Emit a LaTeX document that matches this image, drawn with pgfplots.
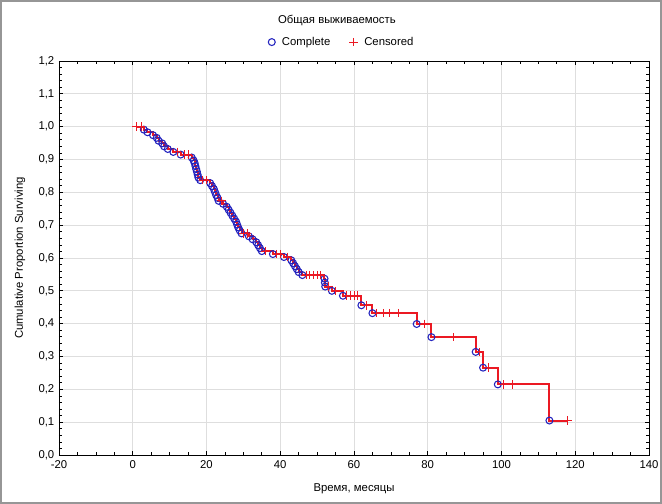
\documentclass[border=0pt]{standalone}
\usepackage{pgfplots}
\pgfplotsset{compat=1.18}
\usepackage{fontspec}
\setmainfont{Liberation Sans}
\definecolor{kmred}{RGB}{235,25,35}
\definecolor{kmblue}{RGB}{35,35,190}
\definecolor{gridgray}{RGB}{222,222,222}
\definecolor{framegray}{RGB}{150,150,150}
\begin{document}
\begin{tikzpicture}
\begin{axis}[
  at={(0,0)}, anchor=south west,
  scale only axis,
  width=442.5pt, height=295.5pt,
  xmin=-20, xmax=140, ymin=0, ymax=1.2,
  xtick={-20,0,20,40,60,80,100,120,140},
  ytick={0,0.1,0.2,0.3,0.4,0.5,0.6,0.7,0.8,0.9,1.0,1.1,1.2},
  minor x tick num=3, minor y tick num=4,
  tick align=inside, tick pos=both,
  major tick length=3pt, minor tick length=2pt,
  grid=major, major grid style={gridgray, line width=0.6pt},
  axis line style={black, line width=0.6pt},
  every tick/.style={black, line width=0.5pt},
  /pgf/number format/assume math mode=true,
  ticklabel style={font=\fontsize{8.5}{10}\selectfont},
  yticklabel style={/pgf/number format/.cd, use comma, fixed, fixed zerofill, precision=1},
  xticklabel style={yshift=-1pt, /pgf/number format/.cd, fixed, precision=0},
  xlabel={Время, месяцы}, ylabel={Cumulative Proportion Surviving},
  label style={font=\fontsize{8.5}{10}\selectfont},
  xlabel style={at={(axis description cs:0.5,-0.086)}, anchor=center},
  ylabel style={at={(axis description cs:-0.066,0.5)}, anchor=center},
  legend columns=2,
  legend style={draw=none, fill=none, font=\fontsize{8.5}{10}\selectfont,
    at={(axis description cs:0.48,1.048)}, anchor=center,
    /tikz/every odd column/.append style={column sep=3pt},
    /tikz/every even column/.append style={column sep=12pt}},
  legend cell align=left,
  clip=false,
]
\addplot[const plot, kmred, line width=1.5pt, forget plot] coordinates {
(1,1.0) (3,0.991) (4,0.983) (5.5,0.974) (6.5,0.966) (7,0.957) (8,0.949) (8.5,0.940)
(9.5,0.932) (11,0.923) (13,0.915) (16,0.906) (16.5,0.897) (16.8,0.889) (17,0.880)
(17.2,0.871) (17.4,0.863) (17.6,0.854) (17.8,0.845) (18.3,0.837) (21,0.828) (21.5,0.819)
(22,0.810) (22.3,0.801) (22.6,0.792) (23,0.783) (23.3,0.774) (24.5,0.765) (25.5,0.756)
(26,0.747) (26.5,0.738) (27,0.729) (27.5,0.720) (28,0.711) (28.3,0.702) (28.6,0.693)
(29,0.684) (29.5,0.675) (31.5,0.666) (32.5,0.657) (33.5,0.648) (34,0.639) (34.5,0.630)
(35,0.621) (38,0.612) (41,0.603) (43,0.593) (43.5,0.584) (44,0.575) (44.5,0.566)
(45,0.557) (46,0.548) (52,0.537) (52.1,0.525) (52.2,0.513) (54,0.500) (57,0.485)
(62,0.456) (65,0.432) (77,0.399) (81,0.359) (93,0.314) (95,0.266) (99,0.215)
(113,0.105) (118,0.105)
};
\addplot[only marks, mark=o, mark size=2.6pt, kmblue, mark options={line width=0.8pt}] coordinates {
(3,0.991) (4,0.983) (5.5,0.974) (6.5,0.966) (7,0.957) (8,0.949) (8.5,0.940)
(9.5,0.932) (11,0.923) (13,0.915) (16,0.906) (16.5,0.897) (16.8,0.889) (17,0.880)
(17.2,0.871) (17.4,0.863) (17.6,0.854) (17.8,0.845) (18.3,0.837) (21,0.828) (21.5,0.819)
(22,0.810) (22.3,0.801) (22.6,0.792) (23,0.783) (23.3,0.774) (24.5,0.765) (25.5,0.756)
(26,0.747) (26.5,0.738) (27,0.729) (27.5,0.720) (28,0.711) (28.3,0.702) (28.6,0.693)
(29,0.684) (29.5,0.675) (31.5,0.666) (32.5,0.657) (33.5,0.648) (34,0.639) (34.5,0.630)
(35,0.621) (38,0.612) (41,0.603) (43,0.593) (43.5,0.584) (44,0.575) (44.5,0.566)
(45,0.557) (46,0.548) (52,0.537) (52.1,0.525) (52.2,0.513) (54,0.500) (57,0.485)
(62,0.456) (65,0.432) (77,0.399) (81,0.359) (93,0.314) (95,0.266) (99,0.215)
(113,0.105)
};
\addlegendentry{Complete}
\addplot[only marks, mark=+, mark size=3.2pt, kmred, mark options={line width=0.7pt}] coordinates {
(1,1.0) (2.3,1.0) (12,0.923) (14,0.915) (15,0.915) (19,0.837) (20,0.837) (24,0.774)
(30,0.675) (31,0.675) (36,0.621) (39,0.612) (40,0.612) (42,0.603) (47,0.548) (48,0.548)
(49,0.548) (50,0.548) (51,0.548) (53,0.513) (55,0.500) (58,0.485) (59,0.485) (60,0.485)
(61,0.485) (63.5,0.456) (66,0.432) (68,0.432) (69.5,0.432) (72,0.432) (79,0.399)
(87,0.359) (94,0.314) (96.5,0.266) (100.5,0.215) (103,0.215) (118,0.105)
};
\addlegendentry{Censored}
\node[font=\fontsize{8.5}{10}\selectfont] at (axis description cs:0.471,1.104) {Общая выживаемость};
\end{axis}
\draw[framegray, line width=0.8pt] (-43.5pt,-36pt) rectangle (451.5pt,340.5pt);
\pgfresetboundingbox
\path[use as bounding box] (-44.25pt,-36.75pt) rectangle (452.25pt,341.25pt);
\end{tikzpicture}
\end{document}
